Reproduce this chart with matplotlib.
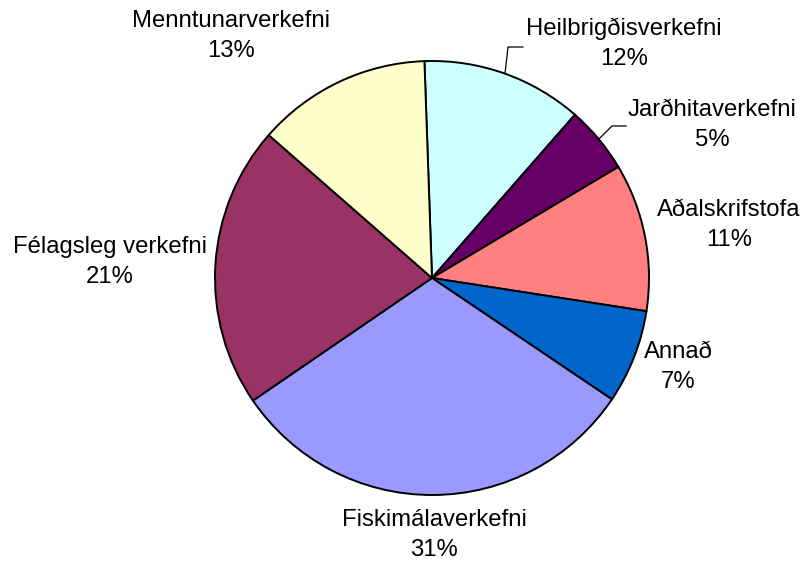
import numpy as np
import matplotlib
matplotlib.use("Agg")
import matplotlib.pyplot as plt

# --- data ---
categories = ["Heilbrigðisverkefni", "Jarðhitaverkefni", "Aðalskrifstofa", "Annað",
              "Fiskimálaverkefni", "Félagsleg verkefni", "Menntunarverkefni"]
shares = [12, 5, 11, 7, 31, 21, 13]
colors = ["#CCFFFF", "#660066", "#FF8080", "#0066CC", "#9999FF", "#993366", "#FFFFCC"]

# label block centres in pixel coords (x, y from top)
label_pos = [(624, 44), (712, 125), (729, 225), (678, 367),
             (434, 535), (110, 262), (231, 36)]
leader = {0: (508, 47, 523), 1: (612, 126, 626)}  # kink x, kink y, end x

W, H = 805, 563
CX, CY, R = 432, 278, 217

plt.rcParams['font.family'] = ['Liberation Sans', 'DejaVu Sans']

fig = plt.figure(figsize=(W / 100, H / 100), dpi=100)
ax = fig.add_axes([0, 0, 1, 1])

wedges, _ = ax.pie(shares, colors=colors, startangle=92, counterclock=False,
                   center=(CX, H - CY), radius=R,
                   wedgeprops=dict(edgecolor="black", linewidth=1.4))

for i, (name, val) in enumerate(zip(categories, shares)):
    x, y = label_pos[i]
    ax.text(x, H - y, f"{name}\n{val}%", ha="center", va="center",
            fontsize=17.2, linespacing=1.45, color="black")
    if i in leader:
        w = wedges[i]
        mid = np.deg2rad((w.theta1 + w.theta2) / 2)
        sx = CX + (R + 1) * np.cos(mid)
        sy = (H - CY) + (R + 1) * np.sin(mid)
        kx, ky, ex = leader[i]
        ax.plot([sx, kx, ex], [sy, H - ky, H - ky], color="black", lw=0.9)

ax.set_xlim(0, W)
ax.set_ylim(0, H)
ax.set_aspect("equal")
ax.axis("off")

fig.savefig("out.png", dpi=100, facecolor="white")
